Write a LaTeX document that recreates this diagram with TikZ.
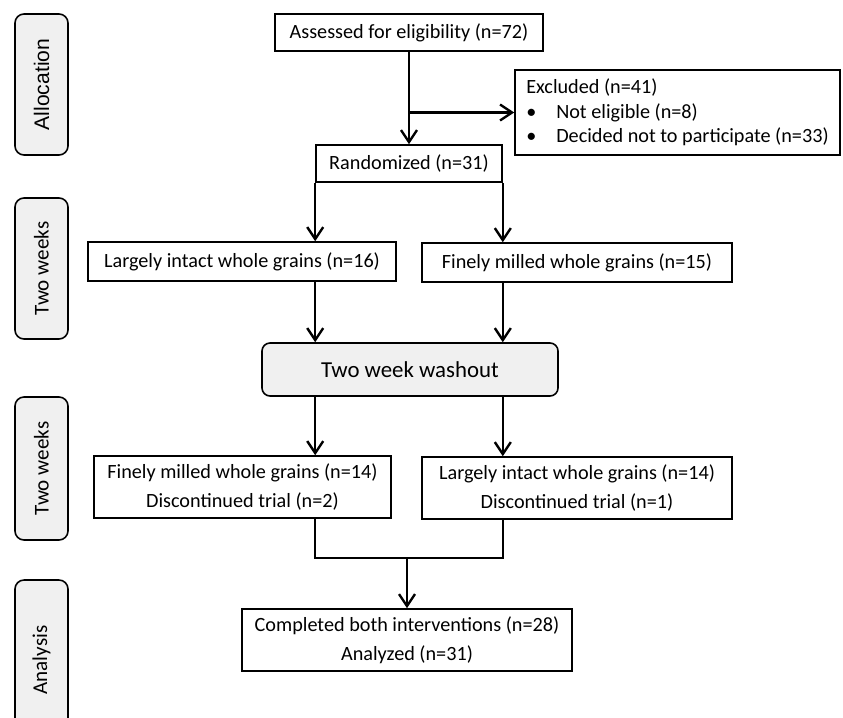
\documentclass[tikz,border=0pt]{standalone}
\usepackage{fontspec}
\setmainfont{Carlito}
\newfontfamily\arialfont{Liberation Sans}
\usetikzlibrary{arrows.meta}
\definecolor{labelgray}{HTML}{F0F0F0}

\begin{document}
\begin{tikzpicture}[x=0.2mm, y=-0.2mm,
		>={Straight Barb[length=2.4mm,width=3.2mm]},
		box/.style={draw,line width=0.9pt,inner sep=0pt,align=center,font=\fontsize{11.5}{16.5}\selectfont},
		side/.style={draw,fill=labelgray,rounded corners=1.8mm,rotate=90,inner sep=0pt,line width=0.9pt,
			minimum height=10.6mm,font=\fontsize{12}{14}\selectfont},
		flow/.style={line width=1.35pt}]
		
		\useasboundingbox (0,0) rectangle (843,717);
		\clip (0,0) rectangle (843,717);
		
		% phase labels
		\node[side,minimum width=28.2mm] (alloc) at (41.5,84.5) {\arialfont Allocation};
		\node[side,minimum width=28.2mm] (weeks1) at (41.5,268.5) {Two weeks};
		\node[side,minimum width=28.6mm] (weeks2) at (41.5,468.5) {Two weeks};
		\node[side,minimum width=32mm] (analysis) at (41.5,660) {Analysis};
		
		\node[box,minimum width=53.6mm,minimum height=7.4mm] (assess) at (409,32.5) {Assessed for eligibility (n=72)};
		\node[box,align=left,minimum width=65mm,minimum height=17mm,
			font=\fontsize{11.5}{14}\selectfont] (excl) at (677.5,112.5)
			{Excluded (n=41)\\
			\makebox[6mm][l]{\textbullet}Not eligible (n=8)\\
			\makebox[6mm][l]{\textbullet}Decided not to participate (n=33)};
		\node[box,minimum width=37.2mm,minimum height=7.4mm] (rand) at (409,163.5) {Randomized (n=31)};
		\node[box,minimum width=61.6mm,minimum height=7.8mm] (intact1) at (242,261.5) {Largely intact whole grains (n=16)};
		\node[box,minimum width=62mm,minimum height=7.8mm] (milled1) at (577,262.5) {Finely milled whole grains (n=15)};
		\node[box,fill=labelgray,rounded corners=1.6mm,minimum width=59.2mm,minimum height=10.6mm,
			font=\fontsize{13}{15}\selectfont] (wash) at (410,369.5) {Two week washout};
		\node[box,minimum width=59.4mm,minimum height=12.4mm] (milled2) at (242.5,487) {Finely milled whole grains (n=14)\\Discontinued trial (n=2)};
		\node[box,minimum width=62mm,minimum height=12.4mm] (intact2) at (577,488) {Largely intact whole grains (n=14)\\Discontinued trial (n=1)};
		\node[box,minimum width=66mm,minimum height=12.4mm] (done) at (407,640) {Completed both interventions (n=28)\\Analyzed (n=31)};
		
		\coordinate (L) at (rand.south west);
		\coordinate (R) at (rand.south east);
		\coordinate (J) at (407,558);
		
		\draw[flow,->] (assess) -- (rand);
		\draw[flow,->] (assess.south |- excl.west) -- (excl.west);
		\draw[flow,->] (L) -- (intact1.north -| L);
		\draw[flow,->] (R) -- (milled1.north -| R);
		\draw[flow,->] (intact1.south -| L) -- (wash.north -| L);
		\draw[flow,->] (milled1.south -| R) -- (wash.north -| R);
		\draw[flow,->] (wash.south -| L) -- (milled2.north -| L);
		\draw[flow,->] (wash.south -| R) -- (intact2.north -| R);
		\draw[flow] (milled2.south -| L) -- (L |- J) -- (R |- J) -- (intact2.south -| R);
		\draw[flow,->] (J) -- (done);
\end{tikzpicture}
\end{document}
